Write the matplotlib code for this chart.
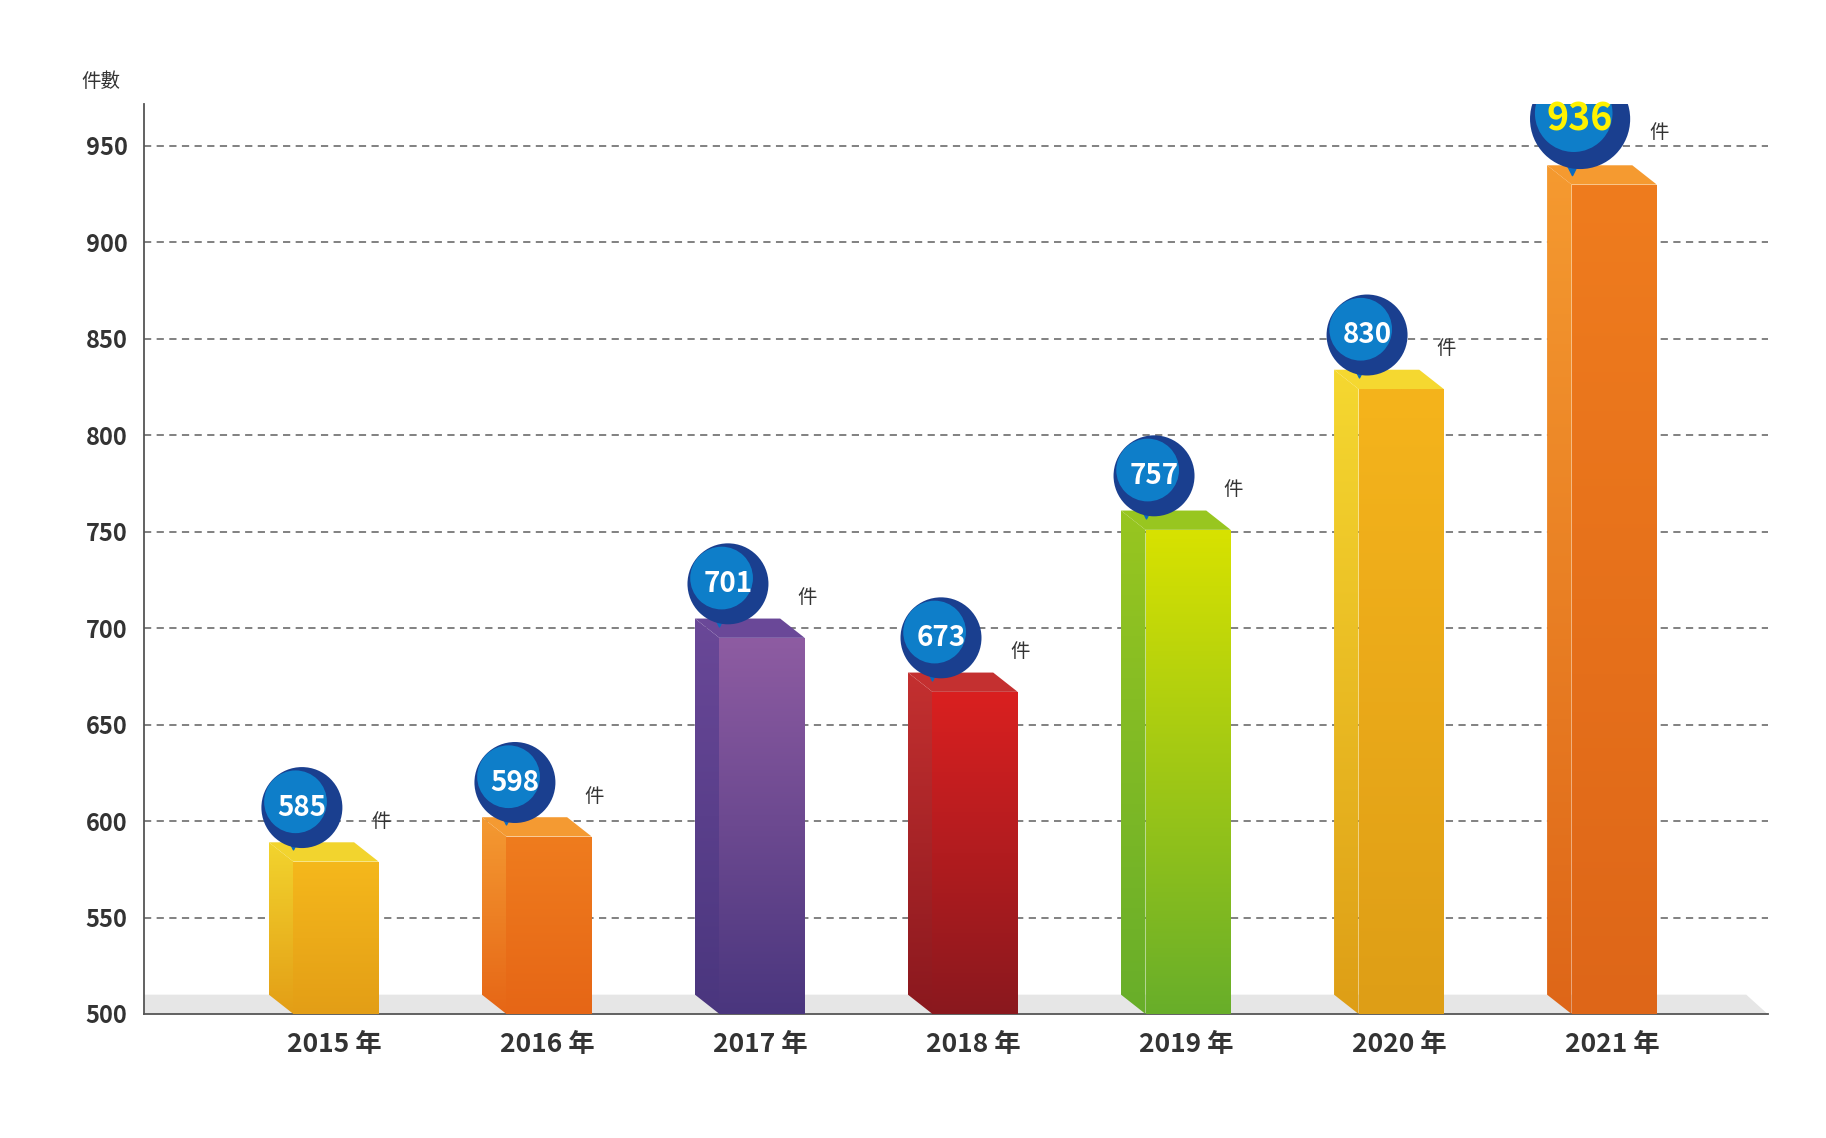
import matplotlib.pyplot as plt
import numpy as np
from matplotlib.patches import Polygon
from matplotlib.colors import LinearSegmentedColormap, to_rgb

plt.rcParams['font.family'] = ['Noto Sans CJK TC', 'DejaVu Sans']

years = ['2015 年', '2016 年', '2017 年', '2018 年', '2019 年', '2020 年', '2021 年']
counts = [585, 598, 701, 673, 757, 830, 936]
yticks = [500, 550, 600, 650, 700, 750, 800, 850, 900, 950]

# front top, front bottom, side colour
bar_colors = [
    ('#F5B81C', '#E39E16', '#F2D42E'),
    ('#EF7C1E', '#E66616', '#F49A32'),
    ('#8E5CA2', '#4A367E', '#6A4898'),
    ('#DA2020', '#8A181E', '#C43030'),
    ('#D8E200', '#68AE2A', '#98C620'),
    ('#F5B41C', '#DE9E16', '#F5D830'),
    ('#EF7C1E', '#DE6618', '#F59A30'),
]

fig = plt.figure(figsize=(18.26, 11.38), dpi=100)
ax = fig.add_axes([0.079, 0.109, 0.889, 0.80])
ax.set_xlim(-0.89, 6.73)
ax.set_ylim(500, 972)

for t in yticks[1:]:
    ax.axhline(t, color='#777777', lw=1.3, ls=(0, (4, 3)), zorder=1)

# floor
floor = Polygon([(-0.89, 500), (6.73, 500), (6.63, 510), (-0.89, 510)],
                closed=True, facecolor='#E6E6E6', edgecolor='none', zorder=2)
ax.add_patch(floor)


def grad_poly(pts, c1, c2, z):
    poly = Polygon(pts, closed=True, facecolor='none', edgecolor='none', zorder=z)
    ax.add_patch(poly)
    xs = [p[0] for p in pts]
    ys = [p[1] for p in pts]
    cmap = LinearSegmentedColormap.from_list('g', [c2, c1])
    g = np.linspace(0, 1, 256).reshape(-1, 1)
    im = ax.imshow(g, cmap=cmap, extent=[min(xs), max(xs), min(ys), max(ys)],
                   origin='lower', aspect='auto', zorder=z)
    im.set_clip_path(poly)


w = 0.40
d = 0.115
dy = 10
for i, (v, (ctop, cbot, cside)) in enumerate(zip(counts, bar_colors)):
    x0 = i - 0.19
    top = v - 6
    # side face
    side = [(x0 - d, 500 + dy), (x0, 500), (x0, top), (x0 - d, top + dy)]
    grad_poly(side, cside, cbot, 3)
    # top face
    tf = [(x0 - d, top + dy), (x0 + w - d, top + dy), (x0 + w, top), (x0, top)]
    ax.add_patch(Polygon(tf, closed=True, facecolor=cside, edgecolor='none', zorder=3))
    # front face
    front = [(x0, 500), (x0 + w, 500), (x0 + w, top), (x0, top)]
    grad_poly(front, ctop, cbot, 4)

    # bubble
    big = i == len(counts) - 1
    bx = x0 + 0.04
    by = v + 22 + (6 if big else 0)
    size = 5200 if big else 3400
    ax.scatter([bx - 0.04], [by - 16 - (6 if big else 0)], marker='v', s=size * 0.08,
               color='#0A6ABF', zorder=5)
    ax.scatter([bx], [by], s=size, color='#1A3F8F', zorder=6, edgecolors='none')
    ax.scatter([bx - 0.03], [by + 3], s=size * 0.6, color='#0B8FD8', zorder=6,
               edgecolors='none', alpha=0.8)
    ax.text(bx, by, str(v), ha='center', va='center', zorder=7,
            color='#FFF200' if big else 'white', fontweight='bold',
            fontsize=27 if big else 20)
    ax.text(bx + 0.37, by - 7, '件', ha='center', va='center', fontsize=14,
            color='#333333', zorder=7)

ax.set_yticks(yticks)
ax.set_yticklabels([str(t) for t in yticks], fontsize=17, fontweight='bold', color='#333333')
ax.set_xticks(range(len(years)))
ax.set_xticklabels(years, fontsize=19, fontweight='bold', color='#333333')
ax.tick_params(length=0, pad=12)
for s in ['top', 'right']:
    ax.spines[s].set_visible(False)
ax.spines['left'].set_color('#555555')
ax.spines['bottom'].set_color('#555555')
ax.spines['left'].set_linewidth(1.3)
ax.spines['bottom'].set_linewidth(1.3)
ax.text(-1.0, 978, '件數', ha='right', va='bottom', fontsize=14, color='#333333')

fig.savefig('out.png', dpi=100)
